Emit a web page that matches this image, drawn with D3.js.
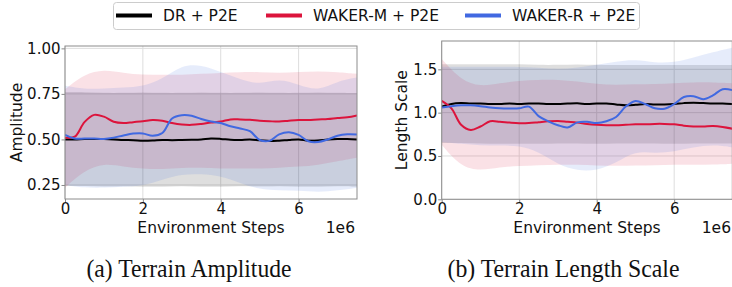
<!DOCTYPE html>
<html>
<head>
<meta charset="utf-8">
<script src="https://cdn.jsdelivr.net/npm/d3@7"></script>
<style>
  body { margin: 0; background: #fff; }
  svg { display: block; font-family: "DejaVu Sans", sans-serif; }
</style>
</head>
<body>
<svg width="732" height="287"></svg>
<script>
// series names + colours
const seriesNames = ['DR + P2E', 'WAKER-M + P2E', 'WAKER-R + P2E'];
const seriesColors = ['#000000', '#dc143c', '#4169e1'];

// environment steps (x 1e6)
const lineSteps = [0, 0.25, 0.5, 0.75, 1, 1.25, 1.5, 1.75, 2, 2.25, 2.5, 2.75, 3, 3.25, 3.5, 3.75,
                   4, 4.25, 4.5, 4.75, 5, 5.25, 5.5, 5.75, 6, 6.25, 6.5, 6.75, 7, 7.25, 7.5];
const bandSteps = [0, 0.5, 1, 1.5, 2, 2.5, 3, 3.5, 4, 4.5, 5, 5.5, 6, 6.5, 7, 7.5];
const xTicks = [0, 2, 4, 6];

// (a) terrain amplitude - means
const ampDR = [0.50, 0.50, 0.502, 0.503, 0.502, 0.50, 0.497, 0.496, 0.493, 0.494, 0.497, 0.496, 0.497, 0.498, 0.50, 0.505,
               0.503, 0.498, 0.497, 0.50, 0.495, 0.491, 0.493, 0.497, 0.50, 0.493, 0.494, 0.50, 0.503, 0.502, 0.50];
const ampM = [0.51, 0.515, 0.595, 0.635, 0.625, 0.597, 0.59, 0.595, 0.60, 0.607, 0.603, 0.59, 0.582, 0.58, 0.585, 0.593,
              0.598, 0.61, 0.61, 0.608, 0.603, 0.60, 0.598, 0.603, 0.607, 0.607, 0.61, 0.612, 0.618, 0.622, 0.632];
const ampR = [0.525, 0.505, 0.505, 0.505, 0.503, 0.51, 0.522, 0.532, 0.533, 0.52, 0.535, 0.615, 0.633, 0.63, 0.612, 0.598,
              0.59, 0.572, 0.56, 0.545, 0.497, 0.492, 0.528, 0.54, 0.525, 0.49, 0.486, 0.50, 0.52, 0.528, 0.527];

// (a) terrain amplitude - spread bands
const ampDRHi = [0.76, 0.76, 0.755, 0.755, 0.76, 0.755, 0.755, 0.76, 0.755, 0.755, 0.76, 0.755, 0.755, 0.76, 0.755, 0.755];
const ampDRLo = [0.245, 0.245, 0.24, 0.245, 0.24, 0.24, 0.245, 0.24, 0.24, 0.245, 0.24, 0.245, 0.24, 0.24, 0.245, 0.24];
const ampMHi = [0.775, 0.86, 0.885, 0.865, 0.855, 0.855, 0.855, 0.86, 0.865, 0.87, 0.87, 0.865, 0.87, 0.875, 0.87, 0.86];
const ampMLo = [0.235, 0.33, 0.37, 0.35, 0.34, 0.335, 0.345, 0.345, 0.34, 0.34, 0.34, 0.345, 0.35, 0.36, 0.38, 0.40];
const ampRHi = [0.795, 0.775, 0.78, 0.785, 0.79, 0.83, 0.91, 0.91, 0.87, 0.83, 0.80, 0.835, 0.80, 0.765, 0.82, 0.84];
const ampRLo = [0.25, 0.235, 0.235, 0.24, 0.245, 0.28, 0.31, 0.31, 0.30, 0.26, 0.225, 0.22, 0.22, 0.21, 0.22, 0.235];

// (b) terrain length scale - means
const lenDR = [1.07, 1.10, 1.11, 1.105, 1.105, 1.10, 1.10, 1.105, 1.10, 1.105, 1.105, 1.10, 1.10, 1.105, 1.108, 1.10,
               1.105, 1.105, 1.095, 1.085, 1.09, 1.10, 1.095, 1.095, 1.10, 1.11, 1.115, 1.11, 1.105, 1.105, 1.10];
const lenM = [1.135, 1.05, 0.86, 0.80, 0.84, 0.90, 0.895, 0.885, 0.878, 0.88, 0.89, 0.90, 0.905, 0.895, 0.885, 0.87,
              0.86, 0.855, 0.855, 0.86, 0.865, 0.865, 0.87, 0.87, 0.865, 0.85, 0.84, 0.84, 0.845, 0.835, 0.815];
const lenR = [1.06, 1.075, 1.085, 1.085, 1.075, 1.06, 1.05, 1.048, 1.05, 1.07, 0.96, 0.90, 0.855, 0.83, 0.888, 0.895,
              0.88, 0.90, 0.95, 1.07, 1.135, 1.10, 1.05, 1.045, 1.10, 1.18, 1.19, 1.155, 1.20, 1.27, 1.26];

// (b) terrain length scale - spread bands
const lenDRHi = [1.56, 1.56, 1.56, 1.56, 1.56, 1.55, 1.55, 1.56, 1.55, 1.55, 1.55, 1.55, 1.55, 1.55, 1.55, 1.55];
const lenDRLo = [0.65, 0.65, 0.645, 0.64, 0.64, 0.64, 0.645, 0.645, 0.64, 0.645, 0.645, 0.645, 0.64, 0.645, 0.645, 0.645];
const lenMHi = [1.62, 1.37, 1.30, 1.34, 1.37, 1.38, 1.38, 1.36, 1.33, 1.32, 1.33, 1.33, 1.34, 1.35, 1.35, 1.34];
const lenMLo = [0.63, 0.37, 0.33, 0.37, 0.385, 0.395, 0.40, 0.40, 0.39, 0.385, 0.39, 0.39, 0.40, 0.40, 0.40, 0.41];
const lenRHi = [1.53, 1.53, 1.53, 1.53, 1.53, 1.52, 1.50, 1.52, 1.55, 1.59, 1.615, 1.575, 1.58, 1.635, 1.70, 1.75];
const lenRLo = [0.66, 0.64, 0.62, 0.62, 0.62, 0.55, 0.40, 0.33, 0.33, 0.42, 0.56, 0.53, 0.55, 0.60, 0.63, 0.60];

const svg = d3.select('svg');
const fontSize = 15;

// legend
const legend = svg.append('g');
legend.append('rect')
  .attr('x', 113.5).attr('y', 2.5).attr('width', 526).attr('height', 27)
  .attr('rx', 3).attr('fill', '#fff').attr('stroke', '#cccccc');
const legendX = [116, 266, 465];
seriesNames.forEach((name, i) => {
  legend.append('line')
    .attr('x1', legendX[i]).attr('x2', legendX[i] + 36)
    .attr('y1', 15.5).attr('y2', 15.5)
    .attr('stroke', seriesColors[i]).attr('stroke-width', 4);
  legend.append('text')
    .attr('x', legendX[i] + 47).attr('y', 21)
    .attr('font-size', 15.5).attr('fill', '#111')
    .text(name);
});

function drawPanel(p) {
  const g = svg.append('g');

  const x = d3.scaleLinear().domain([0, 7.5]).range([p.left, p.right]);
  const y = d3.scaleLinear().domain(p.yDomain).range([p.bottom, p.top]);

  g.append('clipPath').attr('id', p.id)
    .append('rect')
    .attr('x', p.left).attr('y', p.top)
    .attr('width', p.right - p.left).attr('height', p.bottom - p.top);

  // grid lines
  g.selectAll('.gx').data(xTicks).enter().append('line')
    .attr('x1', d => x(d)).attr('x2', d => x(d))
    .attr('y1', p.top).attr('y2', p.bottom)
    .attr('stroke', '#dddddd').attr('stroke-width', 1);
  g.selectAll('.gy').data(p.yTicks).enter().append('line')
    .attr('x1', p.left).attr('x2', p.right)
    .attr('y1', d => y(d)).attr('y2', d => y(d))
    .attr('stroke', '#dddddd').attr('stroke-width', 1);

  const plot = g.append('g').attr('clip-path', `url(#${p.id})`);

  // shaded spread
  const area = d3.area()
    .x((d, i) => x(bandSteps[i]))
    .y0(d => y(d[0]))
    .y1(d => y(d[1]))
    .curve(d3.curveBasis);
  p.bands.forEach((b, i) => {
    plot.append('path')
      .datum(d3.zip(b[0], b[1]))
      .attr('d', area)
      .attr('fill', seriesColors[i])
      .attr('fill-opacity', 0.13);
  });

  // mean lines
  const line = d3.line()
    .x((d, i) => x(lineSteps[i]))
    .y(d => y(d))
    .curve(d3.curveCatmullRom);
  p.means.forEach((m, i) => {
    plot.append('path')
      .datum(m)
      .attr('d', line)
      .attr('fill', 'none')
      .attr('stroke', seriesColors[i])
      .attr('stroke-width', 2);
  });

  // axes
  const xAxis = g.append('g')
    .attr('transform', `translate(0,${p.bottom})`)
    .call(d3.axisBottom(x).tickValues(xTicks).tickFormat(d3.format('d')).tickSizeOuter(0).tickSize(3.5).tickPadding(1));
  const yAxis = g.append('g')
    .attr('transform', `translate(${p.left},0)`)
    .call(d3.axisLeft(y).tickValues(p.yTicks).tickFormat(d3.format(p.yFormat)).tickSizeOuter(0).tickSize(3.5).tickPadding(1));
  [xAxis, yAxis].forEach(a => {
    a.select('.domain').remove();
    a.selectAll('line').attr('stroke', '#888');
    a.selectAll('text')
      .attr('font-size', fontSize)
      .attr('font-family', '"DejaVu Sans", sans-serif')
      .attr('fill', '#111');
  });

  // frame
  g.append('rect')
    .attr('x', p.left).attr('y', p.top)
    .attr('width', p.right - p.left).attr('height', p.bottom - p.top)
    .attr('fill', 'none').attr('stroke', '#8c8c8c').attr('stroke-width', 1);

  // axis titles
  g.append('text')
    .attr('x', (p.left + p.right) / 2).attr('y', 233)
    .attr('text-anchor', 'middle').attr('font-size', 15.5).attr('fill', '#111')
    .text('Environment Steps');
  g.append('text')
    .attr('x', p.offsetX).attr('y', 233)
    .attr('text-anchor', 'end').attr('font-size', 15.5).attr('fill', '#111')
    .text('1e6');
  g.append('text')
    .attr('transform', `translate(${p.labelX},${(p.top + p.bottom) / 2}) rotate(-90)`)
    .attr('text-anchor', 'middle').attr('dy', '0.35em')
    .attr('font-size', 15.5).attr('fill', '#111')
    .text(p.yLabel);

  // caption (serif, slightly condensed like the paper)
  svg.append('text')
    .attr('x', p.captionX).attr('y', 277)
    .attr('text-anchor', 'middle')
    .attr('font-family', '"Liberation Serif", serif')
    .attr('font-size', 25).attr('fill', '#111')
    .attr('textLength', p.captionW).attr('lengthAdjust', 'spacingAndGlyphs')
    .text(p.caption);
}

drawPanel({
  id: 'clipA', left: 65, right: 357, top: 46, bottom: 199,
  yDomain: [0.173, 1.013], yTicks: [0.25, 0.5, 0.75, 1.0], yFormat: '.2f',
  yLabel: 'Amplitude', labelX: 17, offsetX: 355,
  means: [ampDR, ampM, ampR],
  bands: [[ampDRLo, ampDRHi], [ampMLo, ampMHi], [ampRLo, ampRHi]],
  caption: '(a) Terrain Amplitude', captionX: 189, captionW: 205
});

drawPanel({
  id: 'clipB', left: 441.7, right: 732.3, top: 41, bottom: 199.3,
  yDomain: [0, 1.827], yTicks: [0, 0.5, 1.0, 1.5], yFormat: '.1f',
  yLabel: 'Length Scale', labelX: 402, offsetX: 731,
  means: [lenDR, lenM, lenR],
  bands: [[lenDRLo, lenDRHi], [lenMLo, lenMHi], [lenRLo, lenRHi]],
  caption: '(b) Terrain Length Scale', captionX: 563.5, captionW: 232
});
</script>
</body>
</html>
